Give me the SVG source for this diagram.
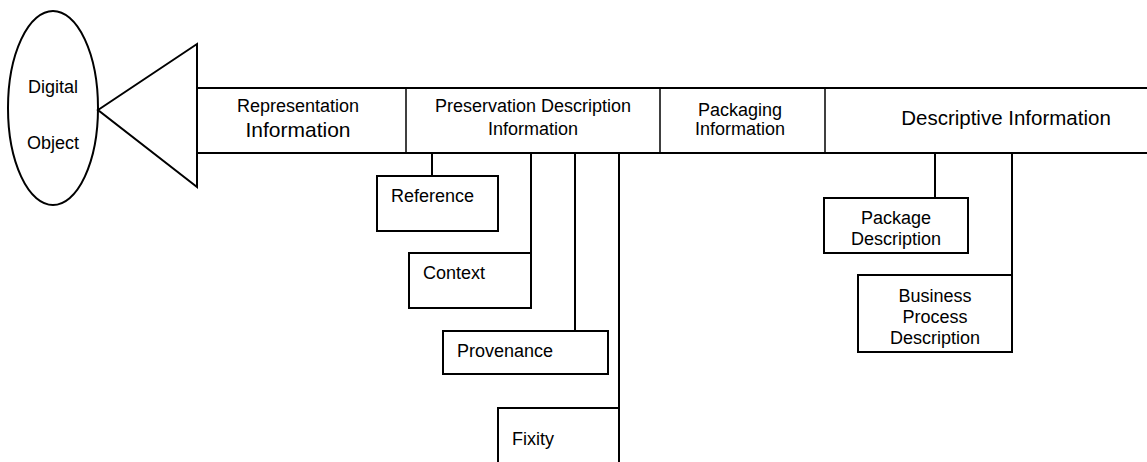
<svg xmlns="http://www.w3.org/2000/svg" width="1147" height="462" viewBox="0 0 1147 462">
<style>
  .s { fill: #fff; stroke: #000; stroke-width: 2; }
  .ln { stroke: #000; stroke-width: 2; fill: none; }
  .dv { stroke: #000; stroke-width: 1.5; fill: none; }
  text { font-family: "Liberation Sans", Arial, sans-serif; font-size: 18px; fill: #000; }
  .c { text-anchor: middle; }
</style>
<rect width="1147" height="462" fill="#fff"/>
<g id="connectors">
  <line class="ln" x1="432" y1="153" x2="432" y2="176"/>
  <line class="ln" x1="531" y1="153" x2="531" y2="253"/>
  <line class="ln" x1="575" y1="153" x2="575" y2="331"/>
  <line class="ln" x1="619" y1="153" x2="619" y2="408"/>
  <line class="ln" x1="935" y1="153" x2="935" y2="198"/>
  <line class="ln" x1="1012" y1="153" x2="1012" y2="275"/>
</g>
<g id="digital-object">
  <ellipse class="s" cx="53" cy="108" rx="45" ry="97"/>
  <text class="c" x="53" y="93">Digital</text>
  <text class="c" x="53" y="149">Object</text>
</g>
<g id="triangle">
  <polygon class="s" points="98,110 197,44 197,187"/>
</g>
<g id="bar">
  <line class="ln" x1="197" y1="88" x2="1147" y2="88"/>
  <line class="ln" x1="197" y1="153" x2="1147" y2="153"/>
  <line class="dv" x1="406" y1="88" x2="406" y2="153"/>
  <line class="dv" x1="660" y1="88" x2="660" y2="153"/>
  <line class="dv" x1="825" y1="88" x2="825" y2="153"/>
</g>
<g id="representation-information">
  <text class="c" x="298" y="112">Representation</text>
  <text class="c" x="298" y="137" style="font-size:21px">Information</text>
</g>
<g id="preservation-description-information">
  <text class="c" x="533" y="112">Preservation Description</text>
  <text class="c" x="533" y="135">Information</text>
</g>
<g id="packaging-information">
  <text class="c" x="740" y="116">Packaging</text>
  <text class="c" x="740" y="135">Information</text>
</g>
<g id="descriptive-information">
  <text class="c" x="1006" y="125" style="font-size:20.5px">Descriptive Information</text>
</g>
<g id="reference">
  <rect class="s" x="377" y="176" width="121" height="55"/>
  <text x="391" y="202">Reference</text>
</g>
<g id="context">
  <rect class="s" x="409" y="253" width="122" height="55"/>
  <text x="423" y="279">Context</text>
</g>
<g id="provenance">
  <rect class="s" x="443" y="331" width="165" height="43"/>
  <text x="457" y="357">Provenance</text>
</g>
<g id="fixity">
  <rect class="s" x="498" y="408" width="121" height="70"/>
  <text x="512" y="445">Fixity</text>
</g>
<g id="package-description">
  <rect class="s" x="824" y="198" width="144" height="55"/>
  <text class="c" x="896" y="224">Package</text>
  <text class="c" x="896" y="245">Description</text>
</g>
<g id="business-process-description">
  <rect class="s" x="858" y="275" width="154" height="77"/>
  <text class="c" x="935" y="302">Business</text>
  <text class="c" x="935" y="323">Process</text>
  <text class="c" x="935" y="344">Description</text>
</g>
</svg>
